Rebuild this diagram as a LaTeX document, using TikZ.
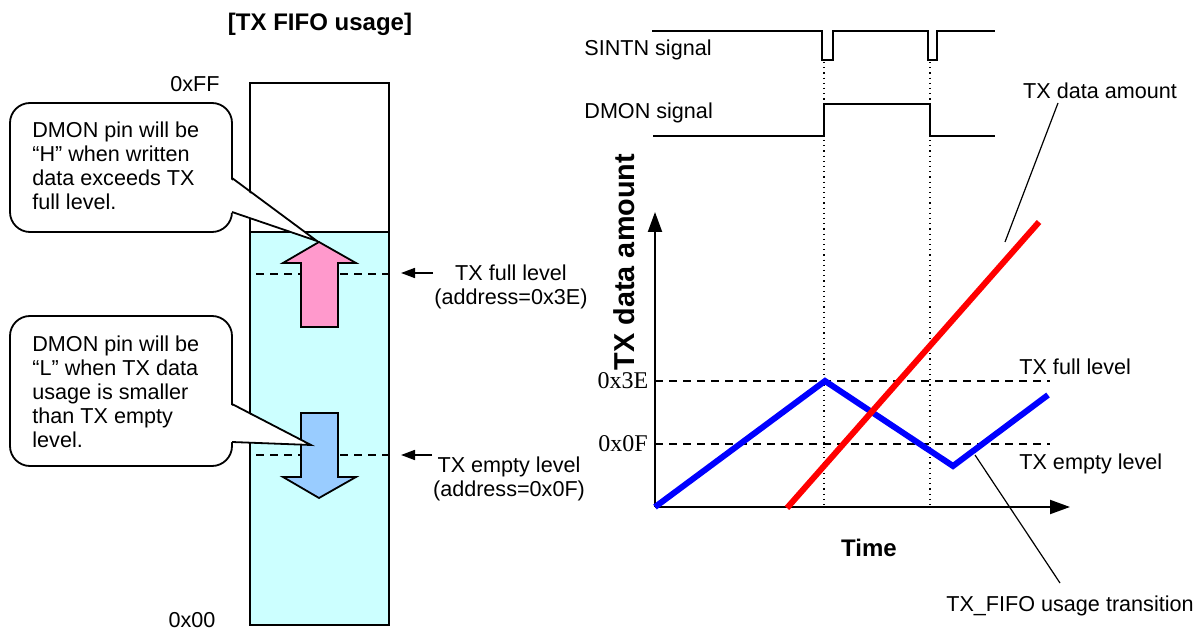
\documentclass[tikz,border=0pt]{standalone}
\usepackage{fontspec}
\setmainfont{Liberation Sans}
\newfontfamily\seriffont{Liberation Serif}
\usetikzlibrary{arrows.meta,calc}
\definecolor{fifocyan}{HTML}{CCFFFF}
\definecolor{pinkarr}{HTML}{FF99CC}
\definecolor{bluearr}{HTML}{99CCFF}
\tikzset{
  txt/.style={inner sep=0pt},
  calloutbox/.style={draw, fill=white, line width=0.9pt, rounded corners=10pt},
  calloutptr/.style={line width=0.9pt, line join=miter},
  fatarrow/.style={draw, line width=0.9pt, line join=miter},
  lvl/.style={dash pattern=on 4pt off 3pt, line width=0.8pt},
  sig/.style={line width=0.9pt, line join=miter},
  vdot/.style={dotted, line width=0.6pt},
  axis/.style={line width=1pt, -{Triangle[length=10pt,width=7pt]}},
  smallarr/.style={line width=0.8pt, -{Triangle[length=7pt,width=5pt]}},
  lead/.style={line width=0.6pt},
  curve/.style={line width=3pt, line join=miter},
  boldlbl/.style={inner sep=0pt, font=\bfseries\fontsize{12}{14}\selectfont},
}
\begin{document}
\begin{tikzpicture}[x=0.5pt,y=-0.5pt, font=\fontsize{10.8}{12}\selectfont]
\useasboundingbox (0,0) rectangle (1194,630);

% ---------------- left: FIFO ----------------
\node[boldlbl] (title) at (320,24) {[TX FIFO usage]};
\node[txt] (ff) at (195,84) {0xFF};
\node[txt] (zz) at (192,620) {0x00};

\fill[fifocyan] (250,232) rectangle (389,625);
\draw[line width=1pt] (250,83) rectangle (389,625);
\draw[line width=1pt] (250,232) -- (389,232);

\draw[lvl] (256,274) -- (389,274);
\draw[lvl] (256,455) -- (389,455);

% fat arrows
\draw[fatarrow, fill=pinkarr] (301,327) -- (301,263) -- (283,263) -- (319,242)
  -- (356,263) -- (338,263) -- (338,327) -- cycle;
\draw[fatarrow, fill=bluearr] (301,413) -- (338,413) -- (338,477) -- (356,477)
  -- (319,498) -- (283,477) -- (301,477) -- cycle;

% level markers
\coordinate (fullA) at (433,273);
\coordinate (fullB) at (401,273);
\draw[smallarr] (fullA) -- (fullB);
\node[txt, align=center, anchor=north] (fulltxt) at (511,264) {TX full level\\(address=0x3E)};
\coordinate (emptyA) at (432,455);
\coordinate (emptyB) at (401,455);
\draw[smallarr] (emptyA) -- (emptyB);
\node[txt, align=center, anchor=north] (emptytxt) at (509,456) {TX empty level\\(address=0x0F)};

% callout 1
\draw[calloutbox] (10,103) rectangle (232,232);
\coordinate (tip1) at (317,241);
\fill[white] (229,178) -- (tip1) -- (229,212) -- cycle;
\draw[calloutptr] (232,178) -- (tip1) -- (232,212);
\node[txt, align=left, anchor=north west] (c1) at (32,121)
  {DMON pin will be\\“H” when written\\data exceeds TX\\full level.};

% callout 2
\draw[calloutbox] (10,316) rectangle (232,466);
\coordinate (tip2) at (311,445);
\fill[white] (229,404) -- (tip2) -- (229,442) -- cycle;
\draw[calloutptr] (232,404) -- (tip2) -- (232,442);
\node[txt, align=left, anchor=north west] (c2) at (32,335)
  {DMON pin will be\\“L” when TX data\\usage is smaller\\than TX empty\\level.};

% ---------------- right: signals ----------------
\node[txt, anchor=west] (sintn) at (584,50) {SINTN signal};
\node[txt, anchor=west] (dmon) at (584,113) {DMON signal};
\draw[sig] (652,31) -- (822,31) -- (822,60) -- (833,60) -- (833,31) -- (928,31)
  -- (928,60) -- (937,60) -- (937,31) -- (995,31);
\draw[sig] (653,136) -- (824,136) -- (824,104) -- (930,104) -- (930,136) -- (995,136);
\draw[vdot] (824,62) -- (824,507);
\draw[vdot] (930,62) -- (930,507);

% ---------------- graph ----------------
\draw[lvl] (655,381) -- (1050,381);
\draw[lvl] (655,444) -- (1050,444);
\node[txt, font=\seriffont\fontsize{12}{14}\selectfont] (l3e) at (623,381) {0x3E};
\node[txt, font=\seriffont\fontsize{12}{14}\selectfont] (l0f) at (623,444) {0x0F};
\node[txt, anchor=west] (fulllbl) at (1019,367) {TX full level};
\node[txt, anchor=west] (emptylbl) at (1019,464) {TX empty level};

\draw[axis] (655,507) -- (655,212);
\draw[axis] (655,507) -- (1070,507);

\draw[curve, blue] (655,507) -- (825,381) -- (953,466) -- (1048,395);
\draw[curve, red] (787,508) -- (1039,222);

\node[boldlbl, font=\bfseries\fontsize{14.4}{16}\selectfont, rotate=90] (yl) at (624,262) {TX data amount};
\node[boldlbl] (xl) at (869,548) {Time};

\node[txt] (amt) at (1100,91) {TX data amount};
\coordinate (amtS) at (1058,103);
\coordinate (amtE) at (1005,242);
\draw[lead] (amtS) -- (amtE);

\node[txt] (trans) at (1070,606) {TX\_FIFO usage transition};
\coordinate (trS) at (1060,583);
\coordinate (trE) at (975,455);
\draw[lead] (trS) -- (trE);
\end{tikzpicture}
\end{document}
